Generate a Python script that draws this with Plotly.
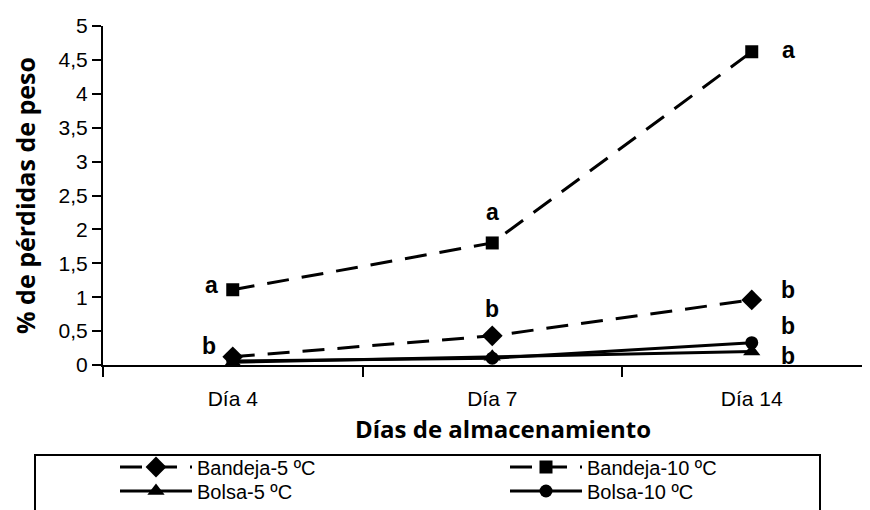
import plotly.graph_objects as go

categories = ["Día 4", "Día 7", "Día 14"]
bandeja_5 = [0.12, 0.43, 0.96]
bandeja_10 = [1.11, 1.80, 4.62]
bolsa_5 = [0.04, 0.12, 0.20]
bolsa_10 = [0.06, 0.10, 0.33]

series_names = ["Bandeja-5 ºC", "Bandeja-10 ºC", "Bolsa-5 ºC", "Bolsa-10 ºC"]
series_values = [bandeja_5, bandeja_10, bolsa_5, bolsa_10]
series_symbols = ["diamond", "square", "triangle-up", "circle"]
series_sizes = [16, 13, 15, 13]
series_dash = ["22px,13px", "22px,13px", "solid", "solid"]

# significance letters: (category index, y value, letter)
letters = [
    (0, 1.18, "a"), (0, 0.28, "b"),
    (1, 2.26, "a"), (1, 0.83, "b"),
    (2, 4.65, "a"), (2, 1.10, "b"), (2, 0.58, "b"), (2, 0.13, "b"),
]
letter_xoff = [-0.08, -0.09, 0.0, 0.0, 0.14, 0.14, 0.14, 0.14]

PW = 775  # plot-area width in px
PH = 339  # plot-area height in px


def px_x(page_x):
    return (page_x - 103) / PW


def px_y(page_y):
    return (365 - page_y) / PH


fig = go.Figure()
legend_ids = ["legend", "legend2", "legend3", "legend4"]
for name, vals, sym, sz, dash, lg in zip(series_names, series_values, series_symbols,
                                          series_sizes, series_dash, legend_ids):
    fig.add_trace(go.Scatter(
        x=list(range(len(categories))), y=vals, name=name, mode="lines+markers",
        line=dict(color="black", width=3, dash=dash),
        marker=dict(symbol=sym, size=sz, color="black"),
        legend=lg,
    ))

for (ci, yv, txt), off in zip(letters, letter_xoff):
    fig.add_annotation(x=ci + off, y=yv, text=txt, showarrow=False,
                       font=dict(family="Liberation Sans", size=23, color="black", weight="bold"))

# x-axis title as paper annotation
fig.add_annotation(x=px_x(503), y=px_y(428), xref="paper", yref="paper",
                   text="Días de almacenamiento", showarrow=False,
                   xanchor="center", yanchor="middle",
                   font=dict(family="Open Sans", size=24, color="black", weight="bold"))

tick_font = dict(family="Liberation Sans", size=21, color="black")

fig.update_layout(
    width=870, height=510,
    margin=dict(l=95, r=0, t=18, b=153),
    paper_bgcolor="white", plot_bgcolor="white",
    showlegend=True,
    separators=",.",
    xaxis=dict(
        range=[-0.5, PW / 259.5 - 0.5], tickmode="array", tickvals=[0, 1, 2], ticktext=categories,
        showline=True, linecolor="black", linewidth=2, ticks="",
        minor=dict(tickvals=[-0.5, 0.5, 1.5], ticks="outside", ticklen=10, tickwidth=2, tickcolor="black"),
        showgrid=False, zeroline=False, tickfont=tick_font, ticklabelstandoff=14,
    ),
    yaxis=dict(
        range=[0, 5], dtick=0.5, tickformat=".1~f",
        showline=True, linecolor="black", linewidth=2, ticks="outside", ticklen=9,
        tickwidth=2, tickcolor="black", showgrid=False, zeroline=False,
        tickfont=tick_font,
        title=dict(text="% de pérdidas de peso",
                   font=dict(family="Open Sans", size=25, color="black", weight="bold"), standoff=20),
    ),
    shapes=[dict(type="rect", xref="paper", yref="paper",
                 x0=px_x(35), x1=px_x(820), y0=px_y(545), y1=px_y(455),
                 line=dict(color="black", width=2), fillcolor="rgba(0,0,0,0)")],
)

leg_common = dict(bgcolor="rgba(0,0,0,0)", borderwidth=0, xanchor="left", yanchor="middle",
                  font=dict(family="Liberation Sans", size=20, color="black"), itemwidth=72)
pos = [(115, 467), (505, 467), (115, 491), (505, 491)]
for lg, (px, py) in zip(legend_ids, pos):
    fig.update_layout({lg: dict(leg_common, x=px_x(px), y=px_y(py))})

fig.write_html("out.html")
